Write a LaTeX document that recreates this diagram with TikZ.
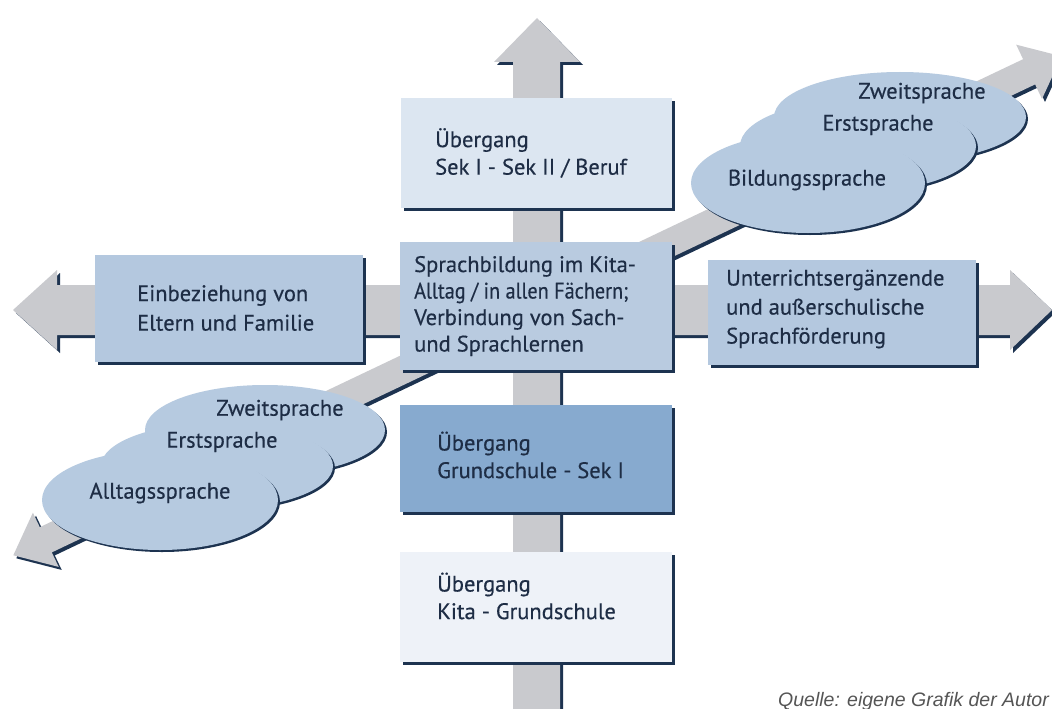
\documentclass[tikz,border=0pt]{standalone}
\usepackage{fontspec}
\setmainfont{PT Sans}[FakeBold=0.4]
\newfontfamily\capfont{Liberation Sans}
\usetikzlibrary{shapes.geometric,shadows}
\definecolor{ink}{HTML}{1E2D45}
\definecolor{shade}{HTML}{1D3350}
\definecolor{arrowgray}{HTML}{C9CACE}
\definecolor{topfill}{HTML}{DCE6F1}
\definecolor{midfill}{HTML}{B9CBE0}
\definecolor{sidefill}{HTML}{B4C8DF}
\definecolor{secfill}{HTML}{87AACF}
\definecolor{kitafill}{HTML}{EEF2F8}
\definecolor{cloudfill}{HTML}{B6CAE0}
\definecolor{capgray}{HTML}{555555}
\tikzset{
  dshadow/.style={drop shadow={shadow xshift=3pt,shadow yshift=-3pt,fill=shade,opacity=1}},
  band/.style={fill=arrowgray,dshadow},
  panel/.style={rectangle,inner sep=0pt,draw=none,dshadow},
  blob/.style={ellipse,inner sep=0pt,draw=none,fill=cloudfill,
    drop shadow={shadow xshift=2pt,shadow yshift=-2pt,fill=shade,opacity=1}},
  txt/.style={anchor=west,align=left,inner sep=0pt,text=ink,
    font=\fontsize{22.5}{27.5}\selectfont},
  ctxt/.style={inner sep=0pt,text=ink,font=\fontsize{22.5}{24}\selectfont},
}
\begin{document}
\begin{tikzpicture}[x=1pt,y=-1pt]
\useasboundingbox (0,0) rectangle (1052,709);
\fill[white] (0,0) rectangle (1052,709);

% diagonal double arrow (everyday language -> academic language)
\path[band] (13.3,555.3) -- (32.9,512.7) -- (39.8,527.2) -- (1023.1,59.2)
  -- (1016.2,44.7) -- (1061.6,56.3) -- (1042.0,98.9) -- (1035.1,84.4)
  -- (51.8,552.4) -- (58.7,566.9) -- cycle;

% horizontal double arrow
\path[band] (13,310) -- (57,270) -- (57,285) -- (1010,285) -- (1010,270)
  -- (1052,310) -- (1010,350) -- (1010,335) -- (57,335) -- (57,350) -- cycle;

% vertical arrow pointing up
\path[band] (537,18) -- (580,62) -- (560,62) -- (560,720) -- (513,720)
  -- (513,62) -- (494,62) -- cycle;

% boxes
\node[panel,fill=topfill,minimum width=271pt,minimum height=110pt] (sek2) at (536,153) {};
\node[panel,fill=midfill,minimum width=272pt,minimum height=128pt] (mid) at (536,306) {};
\node[panel,fill=sidefill,minimum width=268pt,minimum height=107pt] (fam) at (229,308.5) {};
\node[panel,fill=sidefill,minimum width=268pt,minimum height=105pt] (extra) at (842,312.5) {};
\node[panel,fill=secfill,minimum width=272pt,minimum height=107pt] (sek1) at (536,458.5) {};
\node[panel,fill=kitafill,minimum width=272pt,minimum height=110pt] (kita) at (536,607) {};

\node[txt] (sek2T) at (435,153) {Übergang\\Sek I - Sek II / Beruf};
\node[txt,font=\fontsize{22.5}{26.5}\selectfont] (midT) at (414,306) {Sprachbildung im Kita-\\{\addfontfeature{FakeStretch=0.9}Alltag / in allen Fächern;}\\Verbindung von Sach-\\und Sprachlernen};
\node[txt,font=\fontsize{22.5}{29.5}\selectfont] (famT) at (137,308) {Einbeziehung von\\Eltern und Familie};
\node[txt,font=\fontsize{22.5}{29}\selectfont] (extraT) at (726,309) {Unterrichtsergänzende\\und außerschulische\\Sprachförderung};
\node[txt] (sek1T) at (437,455) {Übergang\\Grundschule - Sek I};
\node[txt] (kitaT) at (437,596) {Übergang\\Kita - Grundschule};

% upper right language clouds
\node[blob,minimum width=252pt,minimum height=90pt] (uz) at (900,117) {};
\node[blob,minimum width=236pt,minimum height=92pt] (ue) at (858,146) {};
\node[blob,minimum width=234pt,minimum height=100pt] (ub) at (808,183) {};
\node[ctxt] (uzT) at (922,93) {Zweitsprache};
\node[ctxt] (ueT) at (878,125) {Erstsprache};
\node[ctxt] (ubT) at (807,180) {Bildungssprache};

% lower left language clouds
\node[blob,minimum width=240pt,minimum height=90pt] (lz) at (265,430) {};
\node[blob,minimum width=232pt,minimum height=86pt] (le) at (217,466) {};
\node[blob,minimum width=236pt,minimum height=100pt] (la) at (160,500) {};
\node[ctxt] (lzT) at (280,410) {Zweitsprache};
\node[ctxt] (leT) at (222,442) {Erstsprache};
\node[ctxt] (laT) at (160,493) {Alltagssprache};

% source line
\node[anchor=base west,inner sep=0pt,text=capgray,font=\capfont\itshape\fontsize{19.5}{22}\selectfont] (src) at (778,706) {Quelle: eigene Grafik der Autor};
\end{tikzpicture}
\end{document}
